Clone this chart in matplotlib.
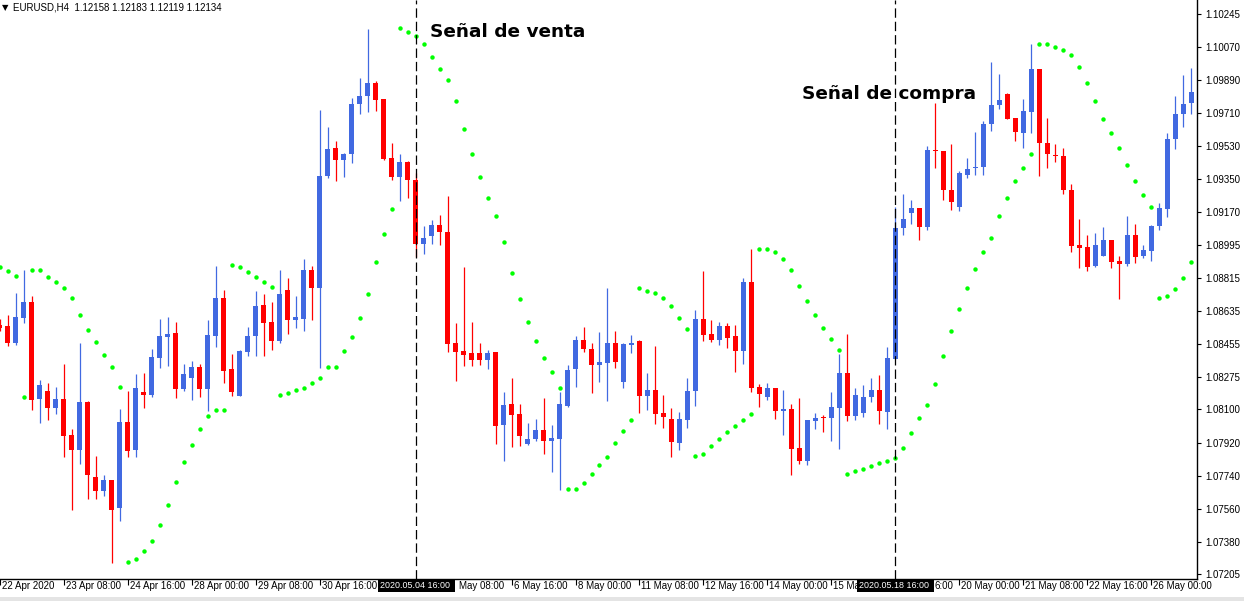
import matplotlib
matplotlib.use("Agg")
import matplotlib.pyplot as plt
import matplotlib.transforms as mtransforms
from matplotlib.patches import Rectangle
import numpy as np

# ---------------- data (EURUSD H4) ----------------
opens = [1.08559, 1.08551, 1.08461, 1.08596, 1.08685, 1.08155, 1.08198, 1.08108, 1.08155, 1.07959,
         1.07880, 1.08139, 1.07733, 1.07658, 1.07717, 1.07562, 1.08031, 1.07880, 1.08194, 1.08178,
         1.08379, 1.08494, 1.08512, 1.08212, 1.08271, 1.08328, 1.08212, 1.08498, 1.08702, 1.08318,
         1.08173, 1.08412, 1.08498, 1.08665, 1.08573, 1.08469, 1.08746, 1.08585, 1.08593, 1.08854,
         1.08759, 1.09366, 1.09521, 1.09452, 1.09485, 1.09756, 1.09799, 1.09872, 1.09786, 1.09466,
         1.09360, 1.09444, 1.09348, 1.08997, 1.09040, 1.09103, 1.09064, 1.08461, 1.08416, 1.08404,
         1.08404, 1.08369, 1.08410, 1.08016, 1.08129, 1.08074, 1.07910, 1.07941, 1.07988, 1.07927,
         1.07941, 1.08118, 1.08320, 1.08479, 1.08430, 1.08341, 1.08353, 1.08463, 1.08247, 1.08449,
         1.08469, 1.08173, 1.08204, 1.08080, 1.08047, 1.07918, 1.08043, 1.08200, 1.08593, 1.08508,
         1.08477, 1.08551, 1.08496, 1.08418, 1.08789, 1.08220, 1.08167, 1.08214, 1.08092, 1.08100,
         1.07890, 1.07821, 1.08035, 1.08059, 1.08053, 1.08108, 1.08296, 1.08065, 1.08080, 1.08167,
         1.08204, 1.08086, 1.08371, 1.09085, 1.09168, 1.09191, 1.09089, 1.09509, 1.09505, 1.09293,
         1.09197, 1.09374, 1.09409, 1.09415, 1.09648, 1.09750, 1.09813, 1.09682, 1.09599, 1.09717,
         1.09949, 1.09548, 1.09480, 1.09476, 1.09293, 1.08991, 1.08979, 1.08877, 1.08932, 1.09018,
         1.08903, 1.08887, 1.09044, 1.08932, 1.08958, 1.09093, 1.09187, 1.09570, 1.09701, 1.09762]

highs = [1.08589, 1.08610, 1.08734, 1.08854, 1.08718, 1.08257, 1.08241, 1.08220, 1.08347, 1.07994,
         1.08463, 1.08145, 1.07845, 1.07743, 1.07717, 1.08100, 1.08198, 1.08290, 1.08296, 1.08430,
         1.08593, 1.08600, 1.08573, 1.08347, 1.08361, 1.08345, 1.08583, 1.08881, 1.08746, 1.08400,
         1.08420, 1.08545, 1.08740, 1.08724, 1.08681, 1.08854, 1.08812, 1.08714, 1.08914, 1.08881,
         1.09727, 1.09633, 1.09558, 1.09493, 1.09792, 1.09900, 1.10166, 1.09884, 1.09786, 1.09548,
         1.09489, 1.09450, 1.09381, 1.09093, 1.09130, 1.09158, 1.09256, 1.08569, 1.08871, 1.08577,
         1.08461, 1.08420, 1.08410, 1.08196, 1.08269, 1.08131, 1.08025, 1.08049, 1.08163, 1.08016,
         1.08192, 1.08341, 1.08498, 1.08547, 1.08461, 1.08520, 1.08759, 1.08528, 1.08461, 1.08502,
         1.08475, 1.08296, 1.08445, 1.08180, 1.08106, 1.08084, 1.08273, 1.08642, 1.08850, 1.08585,
         1.08573, 1.08567, 1.08557, 1.08812, 1.08969, 1.08237, 1.08243, 1.08214, 1.08204, 1.08131,
         1.08163, 1.08041, 1.08080, 1.08067, 1.08194, 1.08402, 1.08510, 1.08214, 1.08233, 1.08269,
         1.08286, 1.08436, 1.09201, 1.09270, 1.09238, 1.09191, 1.09531, 1.09762, 1.09505, 1.09540,
         1.09395, 1.09466, 1.09605, 1.09666, 1.09986, 1.09921, 1.09819, 1.09682, 1.09786, 1.10084,
         1.09949, 1.09682, 1.09540, 1.09517, 1.09321, 1.09132, 1.09044, 1.09056, 1.09089, 1.09022,
         1.08930, 1.09148, 1.09105, 1.08995, 1.09103, 1.09219, 1.09599, 1.09799, 1.09913, 1.09953]

lows = [1.08528, 1.08445, 1.08449, 1.08569, 1.08098, 1.08027, 1.08043, 1.08076, 1.07843, 1.07556,
        1.07804, 1.07615, 1.07611, 1.07631, 1.07268, 1.07496, 1.07843, 1.07843, 1.08108, 1.08167,
        1.08324, 1.08337, 1.08163, 1.08200, 1.08151, 1.08167, 1.08092, 1.08439, 1.08243, 1.08173,
        1.08173, 1.08390, 1.08390, 1.08390, 1.08422, 1.08463, 1.08510, 1.08542, 1.08528, 1.08585,
        1.08324, 1.09354, 1.09338, 1.09360, 1.09436, 1.09701, 1.09717, 1.09721, 1.09456, 1.09344,
        1.09230, 1.09246, 1.08926, 1.08946, 1.08997, 1.08991, 1.08410, 1.08253, 1.08335, 1.08335,
        1.08339, 1.08318, 1.07912, 1.07817, 1.07894, 1.07900, 1.07906, 1.07927, 1.07859, 1.07762,
        1.07662, 1.08114, 1.08222, 1.08412, 1.08190, 1.08247, 1.08147, 1.08324, 1.08216, 1.08406,
        1.08082, 1.08098, 1.08022, 1.08000, 1.07843, 1.07878, 1.08000, 1.08118, 1.08471, 1.08465,
        1.08447, 1.08432, 1.08304, 1.08347, 1.08196, 1.08114, 1.08151, 1.08049, 1.07961, 1.07745,
        1.07804, 1.07800, 1.07996, 1.07978, 1.07929, 1.07886, 1.08037, 1.08043, 1.08057, 1.08141,
        1.08022, 1.07994, 1.08371, 1.09044, 1.09105, 1.09020, 1.09073, 1.09413, 1.09236, 1.09181,
        1.09179, 1.09354, 1.09374, 1.09374, 1.09613, 1.09729, 1.09674, 1.09558, 1.09517, 1.09599,
        1.09366, 1.09413, 1.09442, 1.09268, 1.08954, 1.08865, 1.08852, 1.08873, 1.08932, 1.08867,
        1.08700, 1.08877, 1.08893, 1.08922, 1.08905, 1.09073, 1.09144, 1.09511, 1.09635, 1.09701]

closes = [1.08542, 1.08461, 1.08600, 1.08685, 1.08151, 1.08231, 1.08108, 1.08155, 1.07957, 1.07880,
          1.08139, 1.07745, 1.07658, 1.07717, 1.07556, 1.08031, 1.07876, 1.08214, 1.08180, 1.08383,
          1.08496, 1.08508, 1.08212, 1.08290, 1.08328, 1.08212, 1.08502, 1.08702, 1.08308, 1.08196,
          1.08416, 1.08496, 1.08659, 1.08569, 1.08471, 1.08724, 1.08585, 1.08600, 1.08859, 1.08759,
          1.09368, 1.09515, 1.09452, 1.09489, 1.09760, 1.09803, 1.09872, 1.09782, 1.09462, 1.09360,
          1.09444, 1.09344, 1.08997, 1.09032, 1.09103, 1.09062, 1.08455, 1.08412, 1.08396, 1.08369,
          1.08369, 1.08404, 1.08010, 1.08122, 1.08069, 1.07957, 1.07941, 1.07990, 1.07927, 1.07943,
          1.08129, 1.08312, 1.08475, 1.08426, 1.08341, 1.08355, 1.08463, 1.08357, 1.08453, 1.08463,
          1.08173, 1.08204, 1.08076, 1.08059, 1.07925, 1.08047, 1.08200, 1.08593, 1.08504, 1.08477,
          1.08551, 1.08487, 1.08418, 1.08789, 1.08216, 1.08184, 1.08214, 1.08092, 1.08100, 1.07886,
          1.07821, 1.08041, 1.08051, 1.08051, 1.08112, 1.08296, 1.08065, 1.08178, 1.08165, 1.08204,
          1.08092, 1.08377, 1.09087, 1.09136, 1.09191, 1.09089, 1.09509, 1.09501, 1.09289, 1.09226,
          1.09381, 1.09407, 1.09417, 1.09650, 1.09754, 1.09780, 1.09678, 1.09605, 1.09721, 1.09949,
          1.09544, 1.09485, 1.09474, 1.09289, 1.08987, 1.08975, 1.08873, 1.08995, 1.09018, 1.08899,
          1.08889, 1.09044, 1.08926, 1.08963, 1.09097, 1.09191, 1.09570, 1.09705, 1.09760, 1.09823]

# Parabolic SAR
sar = [1.08875, 1.08850, 1.08822, 1.08167, 1.08854, 1.08854, 1.08818, 1.08791, 1.08757, 1.08704,
       1.08612, 1.08530, 1.08465, 1.08396, 1.08330, 1.08222, 1.07272, 1.07289, 1.07333, 1.07386,
       1.07474, 1.07582, 1.07707, 1.07815, 1.07906, 1.07994, 1.08063, 1.08096, 1.08096, 1.08883,
       1.08871, 1.08844, 1.08818, 1.08791, 1.08763, 1.08178, 1.08190, 1.08206, 1.08216, 1.08243,
       1.08269, 1.08330, 1.08330, 1.08416, 1.08491, 1.08596, 1.08724, 1.08899, 1.09050, 1.09187,
       1.10168, 1.10151, 1.10129, 1.10086, 1.10015, 1.09949, 1.09890, 1.09776, 1.09623, 1.09485,
       1.09364, 1.09250, 1.09152, 1.09007, 1.08838, 1.08697, 1.08573, 1.08471, 1.08379, 1.08302,
       1.08216, 1.07668, 1.07668, 1.07700, 1.07749, 1.07798, 1.07841, 1.07917, 1.07984, 1.08043,
       1.08759, 1.08740, 1.08730, 1.08704, 1.08661, 1.08596, 1.08536, 1.07847, 1.07857, 1.07900,
       1.07939, 1.07978, 1.08010, 1.08043, 1.08076, 1.08969, 1.08969, 1.08952, 1.08916, 1.08854,
       1.08769, 1.08687, 1.08612, 1.08540, 1.08481, 1.08422, 1.07749, 1.07766, 1.07778, 1.07794,
       1.07810, 1.07821, 1.07835, 1.07892, 1.07974, 1.08055, 1.08125, 1.08237, 1.08390, 1.08524,
       1.08646, 1.08761, 1.08861, 1.08952, 1.09030, 1.09148, 1.09246, 1.09338, 1.09413, 1.09485,
       1.10086, 1.10086, 1.10070, 1.10053, 1.10025, 1.09960, 1.09874, 1.09772, 1.09678, 1.09599,
       1.09521, 1.09425, 1.09338, 1.09262, 1.09197, 1.08704, 1.08714, 1.08753, 1.08812, 1.08899]

xtick_idx = [0, 8, 16, 24, 32, 40, 48, 56, 64, 72, 80, 88, 96, 104, 112, 120, 128, 136, 144]
xtick_labels = ["22 Apr 2020", "23 Apr 08:00", "24 Apr 16:00", "28 Apr 00:00", "29 Apr 08:00",
                "30 Apr 16:00", "4 May 00:00", "5 May 08:00", "6 May 16:00", "8 May 00:00",
                "11 May 08:00", "12 May 16:00", "14 May 00:00", "15 May 08:00", "18 May 16:00",
                "20 May 00:00", "21 May 08:00", "22 May 16:00", "26 May 00:00"]
# part of each date label left visible next to the highlighted date boxes
# (label, visible text, shift in pixels from its tick)
partial_labels = {"4 May 00:00": ("", 0), "5 May 08:00": ("May 08:00", 11),
                  "15 May 08:00": ("15 Ma", 2), "18 May 16:00": ("6:00", 39)}
ytick_vals = [1.10245, 1.10070, 1.09890, 1.09710, 1.09530, 1.09350, 1.09170, 1.08995, 1.08815,
              1.08635, 1.08455, 1.08275, 1.08100, 1.07920, 1.07740, 1.07560, 1.07380, 1.07205]
ytick_labels = ["%.5f" % v for v in ytick_vals]

signal_idx = [52, 112]
signal_dates = ["2020.05.04 16:00", "2020.05.18 16:00"]
signal_texts = ["Señal de venta", "Señal de compra"]
header = "EURUSD,H4  1.12158 1.12183 1.12119 1.12134"

# ---------------- figure ----------------
W, H = 1244, 601
fig = plt.figure(figsize=(W / 100, H / 100), dpi=100)
fig.patch.set_facecolor("white")
FONT = "Liberation Sans"

ax_bottom_px = 579
ax_right_px = 1197
ax = fig.add_axes([0, 1 - ax_bottom_px / H, ax_right_px / W, ax_bottom_px / H])
ax.set_facecolor("white")

x = np.arange(len(opens))
o = np.array(opens); h = np.array(highs); l = np.array(lows); c = np.array(closes)
up = c >= o
colors = np.where(up, "#4169E1", "#FF0000")
body_bot = np.minimum(o, c)
body_h = np.maximum(np.abs(c - o), 0.00004)

ax.vlines(x, l, h, colors=colors, linewidth=0.9, zorder=2)
ax.bar(x, body_h, bottom=body_bot, width=0.625, color=colors, linewidth=0, zorder=3)
ax.plot(x, sar, linestyle="none", marker="o", markersize=3.2, color="#00FF00",
        markeredgewidth=0, zorder=4)

for si in signal_idx:
    ax.axvline(si, color="black", linewidth=0.9, dashes=(7.5, 3.2), zorder=5)

ax.set_xlim(0.125, 149.75)
ax.set_ylim(1.07174 + 0.00005, 1.103226)

for s in ["left", "top"]:
    ax.spines[s].set_visible(False)
for s in ["right", "bottom"]:
    ax.spines[s].set_color("black")
    ax.spines[s].set_linewidth(1.0)

ax.yaxis.tick_right()
ax.set_yticks(ytick_vals)
ax.set_yticklabels(ytick_labels, fontsize=7, family=FONT)
ax.tick_params(axis="y", direction="out", length=3, width=0.8, pad=3, colors="black")

ax.set_xticks(xtick_idx)
ax.tick_params(axis="x", direction="out", length=4, width=0.8, labelbottom=False)

trans = mtransforms.blended_transform_factory(ax.transData, ax.transAxes)
label_y = -7 / ax_bottom_px
for ti, lab in zip(xtick_idx, xtick_labels):
    txt, shift = partial_labels.get(lab, (lab, 2))
    if not txt:
        continue
    ax.text(ti + shift / 8, label_y, txt, transform=trans, ha="left", va="center",
            fontsize=7, family=FONT, color="black", clip_on=False)

for si, lab in zip(signal_idx, signal_dates):
    ax.add_patch(Rectangle((si - 38 / 8, -13 / ax_bottom_px), 77 / 8, 12.5 / ax_bottom_px,
                           transform=trans, facecolor="black", edgecolor="none",
                           clip_on=False, zorder=10))
    ax.text(si - 36 / 8, label_y, lab, transform=trans, ha="left", va="center",
            fontsize=6.4, family=FONT, color="white", clip_on=False, zorder=11)

# annotations
fig.text(430 / W, 1 - 32 / H, signal_texts[0], fontsize=13.3, fontweight="bold",
         family="DejaVu Sans", color="black", ha="left", va="center")
fig.text(802 / W, 1 - 94 / H, signal_texts[1], fontsize=13.3, fontweight="bold",
         family="DejaVu Sans", color="black", ha="left", va="center")

# header
fig.text(2 / W, 1 - 8 / H, "▼", fontsize=6, family="DejaVu Sans", color="black",
         ha="left", va="center")
fig.text(13 / W, 1 - 8 / H, header, fontsize=7, family=FONT, color="black",
         ha="left", va="center")

# bottom gray strip
fig.patches.append(Rectangle((0, 0), 1, 4 / H, transform=fig.transFigure,
                             facecolor="#e4e4e4", edgecolor="none"))

fig.savefig("out.png", dpi=100, facecolor="white")
